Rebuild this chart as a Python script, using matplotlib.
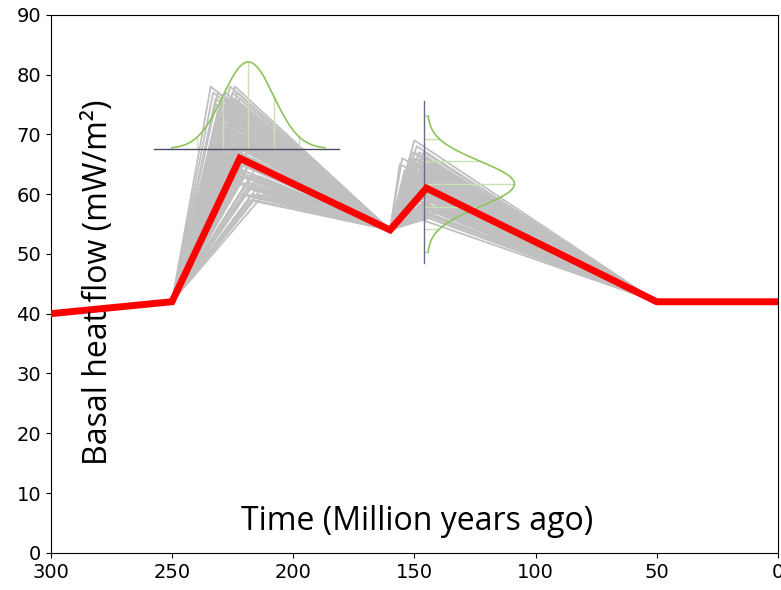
import numpy as np
import matplotlib
matplotlib.use("Agg")
import matplotlib.pyplot as plt

# Best-fit (red) history: time (Ma) and basal heat flow (mW/m2)
best_time = [300, 250, 222, 160, 145, 50, 0]
best_flow = [40, 42, 66, 54, 61, 42, 42]

# Fixed nodes shared by all sampled (grey) histories
node_start = (250, 42)
node_mid = (160, 54)
node_end = (50, 42)

# Sampled first-peak (time, flow) and second-peak (time, flow)
peak1_time = [234, 233, 232, 231, 231, 230, 230, 229, 229, 228,
              228, 227, 227, 226, 226, 226, 225, 225, 225, 224,
              224, 224, 223, 223, 223, 222, 222, 222, 221, 221,
              221, 220, 220, 220, 219, 219, 219, 218, 218, 217,
              217, 216, 216, 215, 215, 214, 213, 212, 230, 228,
              226, 224, 222, 220, 218, 225, 223, 221, 219, 227,
              229, 224, 222, 220, 217, 226, 223, 221, 219, 216,
              231, 227, 225, 222, 218, 232, 229, 226, 224, 221,
              228, 225, 223, 220, 227, 224, 222, 226, 223, 225,
              230, 227, 224, 221, 219, 229, 226, 223, 220, 222]
peak1_flow = [78, 77, 76, 77, 74, 75, 72, 76, 73, 77,
              74, 76, 71, 78, 75, 72, 77, 74, 70, 78,
              76, 73, 77, 74, 69, 76, 72, 67, 75, 71,
              65, 73, 69, 63, 71, 66, 62, 68, 61, 66,
              60, 64, 62, 61, 60, 63, 61, 60, 73, 71,
              69, 67, 65, 63, 59, 74, 72, 70, 67, 66,
              70, 64, 62, 60, 63, 69, 67, 65, 61, 59,
              72, 68, 62, 60, 65, 75, 73, 70, 68, 64,
              75, 73, 71, 68, 72, 70, 74, 76, 75, 69,
              71, 70, 66, 64, 62, 74, 73, 68, 70, 63]
peak2_time = [156, 155, 154, 153, 152, 152, 151, 151, 150, 150,
              150, 149, 149, 149, 148, 148, 148, 147, 147, 147,
              146, 146, 146, 145, 145, 145, 144, 144, 144, 143,
              143, 142, 142, 141, 141, 140, 155, 153, 151, 149,
              147, 145, 143, 141, 152, 150, 148, 146, 144, 142,
              154, 151, 149, 147, 145, 143, 150, 148, 146, 144,
              153, 149, 147, 145, 142, 151, 148, 146, 144, 140,
              152, 150, 149, 147, 146, 145, 143, 148, 146, 144,
              154, 151, 149, 148, 146, 147, 145, 150, 143, 148,
              153, 150, 147, 145, 149, 146, 144, 151, 148, 142]
peak2_flow = [65, 66, 64, 63, 66, 62, 67, 60, 69, 64,
              61, 68, 65, 59, 67, 63, 58, 66, 62, 60,
              67, 64, 60, 66, 62, 57, 65, 61, 58, 63,
              59, 62, 57, 60, 58, 57, 61, 59, 57, 64,
              63, 60, 62, 60, 63, 66, 64, 58, 61, 59,
              60, 62, 56, 60, 66, 58, 61, 63, 65, 63,
              58, 60, 62, 59, 61, 64, 57, 61, 56, 58,
              64, 65, 63, 64, 65, 63, 64, 62, 63, 62,
              62, 63, 66, 65, 64, 61, 60, 67, 61, 60,
              61, 64, 63, 62, 62, 60, 59, 63, 61, 60]

# Prior distributions drawn on the chart
prior1_mean, prior1_sd, prior1_base, prior1_height = 218.5, 10.5, 67.6, 14.5
prior1_line = (257.5, 181)
prior2_mean, prior2_sd, prior2_base, prior2_height = 61.7, 3.8, 146.2, 36
prior2_line = (48.5, 75.5)

x_ticks = [300, 250, 200, 150, 100, 50, 0]
y_ticks = [0, 10, 20, 30, 40, 50, 60, 70, 80, 90]

fig = plt.figure(figsize=(7.81, 5.90), dpi=100)
ax = fig.add_axes([0.065, 0.063, 0.931, 0.912])

grey = "#c0c0c0"
for t1, f1, t2, f2 in zip(peak1_time, peak1_flow, peak2_time, peak2_flow):
    xs = [node_start[0], t1, node_mid[0], t2, node_end[0]]
    ys = [node_start[1], f1, node_mid[1], f2, node_end[1]]
    ax.plot(xs, ys, color=grey, lw=1.3, zorder=2)

green = "#8dc45a"
lightgreen = "#c9e3b0"
# prior 1: horizontal baseline, gaussian upward
ax.plot(prior1_line, [prior1_base, prior1_base], color="#4a4a66", lw=1.0, zorder=4)
gx = np.linspace(prior1_mean - 3 * prior1_sd, prior1_mean + 3 * prior1_sd, 200)
gy = prior1_base + prior1_height * np.exp(-0.5 * ((gx - prior1_mean) / prior1_sd) ** 2)
ax.plot(gx, gy, color=green, lw=1.2, zorder=4)
for k in [-3, -2, -1, 0, 1, 2, 3]:
    xv = prior1_mean + k * prior1_sd
    yv = prior1_base + prior1_height * np.exp(-0.5 * k ** 2)
    ax.plot([xv, xv], [prior1_base, yv], color=lightgreen, lw=1.0, zorder=3)

# prior 2: vertical baseline, gaussian toward younger ages
ax.plot([prior2_base, prior2_base], prior2_line, color="#6a6a88", lw=1.0, zorder=4)
gy2 = np.linspace(prior2_mean - 3 * prior2_sd, prior2_mean + 3 * prior2_sd, 200)
gx2 = prior2_base - 1.5 - prior2_height * np.exp(-0.5 * ((gy2 - prior2_mean) / prior2_sd) ** 2)
ax.plot(gx2, gy2, color=green, lw=1.2, zorder=4)
for k in [-3, -2, -1, 0, 1, 2, 3]:
    yv = prior2_mean + k * prior2_sd
    xv = prior2_base - 1.5 - prior2_height * np.exp(-0.5 * k ** 2)
    ax.plot([prior2_base, xv], [yv, yv], color=lightgreen, lw=1.0, zorder=3)

ax.plot(best_time, best_flow, color="#ff0000", lw=5, zorder=5, solid_joinstyle="miter")

ax.set_xlim(300, 0)
ax.set_ylim(0, 90)
ax.set_xticks(x_ticks)
ax.set_yticks(y_ticks)
ax.tick_params(labelsize=14)

ax.text(280.5, 45.3, "Basal heat flow (mW/m²)", rotation=90, ha="center", va="center",
        fontsize=23, family=["Open Sans", "DejaVu Sans"], zorder=6)
ax.text(149, 5.3, "Time (Million years ago)", ha="center", va="center",
        fontsize=23, family=["Open Sans", "DejaVu Sans"], zorder=6)

fig.savefig("out.png", dpi=100)
